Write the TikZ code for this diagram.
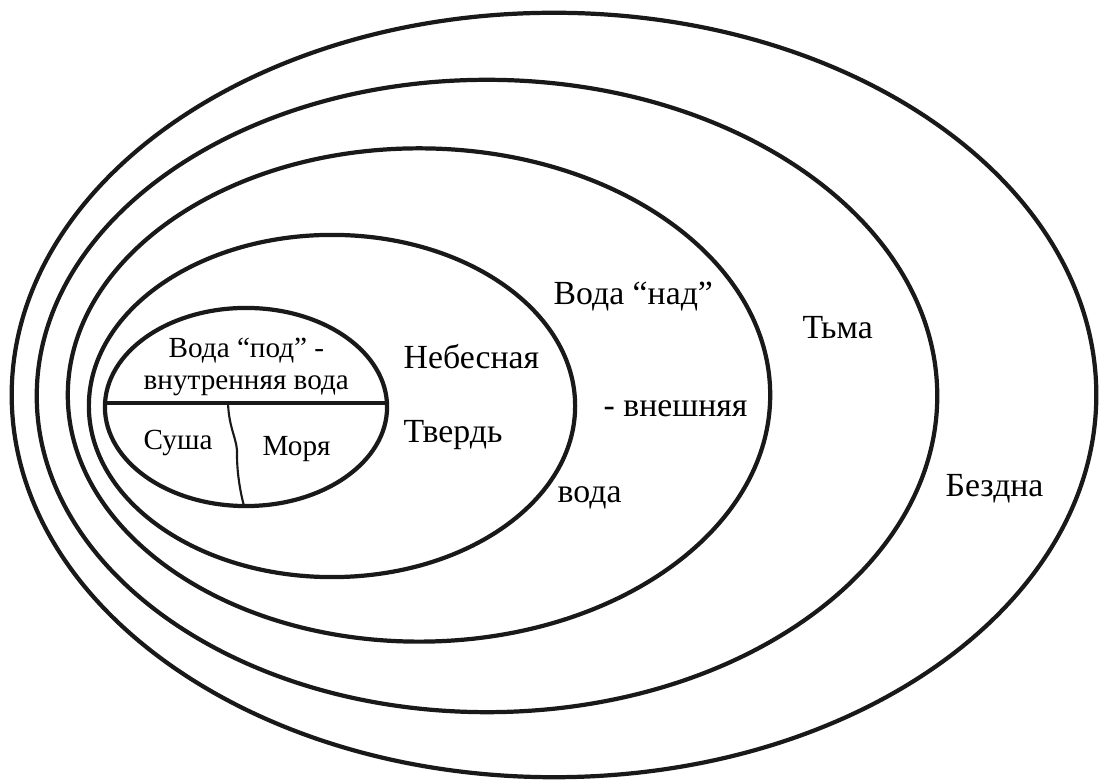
\documentclass[tikz,border=0pt]{standalone}
\usepackage{fontspec}
\setmainfont{Liberation Serif}
\usepackage{tikz}
\usetikzlibrary{positioning}

\begin{document}
\begin{tikzpicture}[
  x=0.01cm, y=-0.01cm,
  shell/.style = {draw=black!90, line width=1.2pt},
  chord/.style = {draw=black!90, line width=0.9pt},
  shore/.style = {draw=black!90, line width=0.6pt},
  lbl/.style   = {inner sep=0pt, anchor=base west, font=\fontsize{9.6}{11.5}\selectfont},
  inlbl/.style = {lbl, font=\fontsize{8.3}{10}\selectfont}
]
\useasboundingbox (0,0) rectangle (1100,780);

% ---------- nested shells ----------
\draw[shell] (554,395) ellipse [x radius=5.42cm, y radius=3.82cm];
\draw[shell] (487,396) ellipse [x radius=4.50cm, y radius=3.16cm];
\draw[shell] (419,395) ellipse [x radius=3.51cm, y radius=2.465cm];
\draw[shell] (332,406) ellipse [x radius=2.43cm, y radius=1.71cm];
\draw[shell] (246,407) ellipse [x radius=1.41cm, y radius=0.99cm];

% ---------- inner division ----------
\coordinate (wl) at (105,403);
\coordinate (wr) at (387,403);
\coordinate (st) at (228,403);
\coordinate (sb) at (244,506);
\draw[chord] (wl) -- (wr);
\draw[shore] (st) .. controls (229,430) and (238,440) .. (237,455)
                  .. controls (237,475) and (241,495) .. (sb);

% ---------- labels ----------
\node[inlbl] (under)  at (168,358) {Вода “под” -};
\node[inlbl] (inner)  at (143,390) {внутренняя вода};
\node[inlbl] (land)   at (143,450) {Суша};
\node[inlbl] (seas)   at (262,456) {Моря};

\node[lbl] (sky)    at (403,369) {Небесная};
\node[lbl] (firm)   at (403,443) {Твердь};
\node[lbl] (over)   at (553,305) {Вода “над”};
\node[lbl] (outer)  at (603,417) {- внешняя};
\node[lbl] (water)  at (557,503) {вода};
\node[lbl] (dark)   at (802,339) {Тьма};
\node[lbl] (abyss)  at (945,497) {Бездна};

\end{tikzpicture}
\end{document}
